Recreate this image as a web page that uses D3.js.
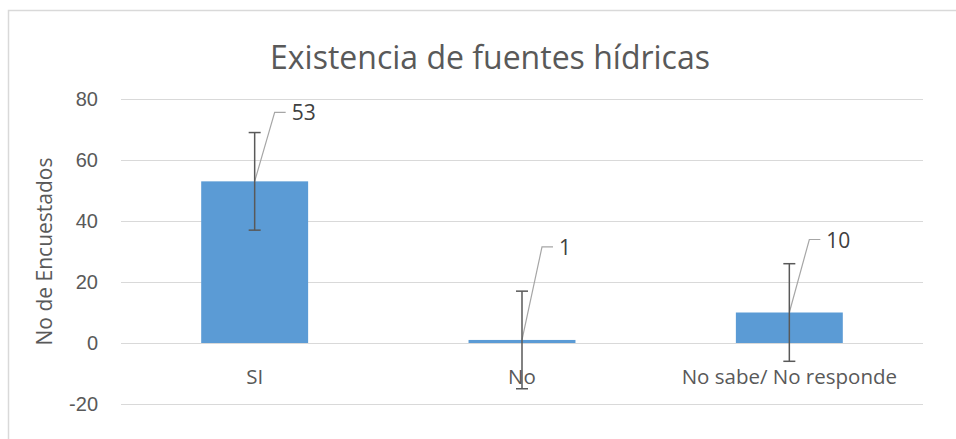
<!DOCTYPE html>
<html>
<head>
<meta charset="utf-8">
<script src="https://cdn.jsdelivr.net/npm/d3@7"></script>
<style>
  body { margin: 0; background: #fff; }
  svg { display: block; font-family: "Open Sans", "Noto Sans", sans-serif; }
</style>
</head>
<body>
<div id="chart"></div>
<script>
const categories = ['SI', 'No', 'No sabe/ No responde'];
const values = [53, 1, 10];
const errors = [16, 16, 16];
const yTicks = [-20, 0, 20, 40, 60, 80];

// manual label placement (px) like the Excel leader lines
const labelOffsets = [[20, -69], [20, -93], [20, -73]];

const width = 956, height = 439;
const margin = { top: 99, right: 33, bottom: 35, left: 121 };
const innerW = width - margin.left - margin.right;
const innerH = height - margin.top - margin.bottom;

const svg = d3.select('#chart').append('svg')
  .attr('width', width).attr('height', height);

// chart frame
svg.append('path')
  .attr('d', `M8.5,${height} V10.5 H${width}`)
  .attr('fill', 'none').attr('stroke', '#d9d9d9').attr('stroke-width', 1.5);

svg.append('text')
  .attr('x', 490).attr('y', 69)
  .attr('text-anchor', 'middle')
  .attr('font-size', 32).attr('fill', '#595959')
  .text('Existencia de fuentes hídricas');

const g = svg.append('g').attr('transform', `translate(${margin.left},${margin.top})`);

const x = d3.scaleBand().domain(categories).range([0, innerW]).paddingInner(0.6).paddingOuter(0.3);
const y = d3.scaleLinear().domain([-20, 80]).range([innerH, 0]);

g.selectAll('line.grid').data(yTicks).join('line')
  .attr('class', 'grid')
  .attr('x1', 0).attr('x2', innerW)
  .attr('y1', d => Math.round(y(d)) + 0.5).attr('y2', d => Math.round(y(d)) + 0.5)
  .attr('stroke', '#d9d9d9').attr('stroke-width', 1);

const yAxis = g.append('g').call(d3.axisLeft(y).tickValues(yTicks).tickSize(0).tickPadding(23)
  .tickFormat(d => String(d)));
yAxis.select('.domain').remove();
yAxis.selectAll('text').attr('font-size', 20).attr('fill', '#595959').attr('font-family', null);

svg.append('text')
  .attr('transform', `translate(52,${margin.top + y(30)}) rotate(-90)`)
  .attr('text-anchor', 'middle')
  .attr('font-size', 21).attr('fill', '#595959')
  .text('No de Encuestados');

g.selectAll('rect.bar').data(values).join('rect')
  .attr('class', 'bar')
  .attr('x', (d, i) => x(categories[i]))
  .attr('width', x.bandwidth())
  .attr('y', d => y(Math.max(0, d)))
  .attr('height', d => Math.abs(y(d) - y(0)))
  .attr('fill', '#5b9bd5');

g.selectAll('text.cat').data(categories).join('text')
  .attr('class', 'cat')
  .attr('x', d => x(d) + x.bandwidth() / 2)
  .attr('y', y(0) + 41)
  .attr('text-anchor', 'middle')
  .attr('font-size', 20.5).attr('fill', '#595959')
  .text(d => d);

// leader lines + data labels
values.forEach((v, i) => {
  const cx = x(categories[i]) + x.bandwidth() / 2;
  const [dx, dy] = labelOffsets[i];
  const x0 = cx, y0 = y(v);
  g.append('polyline')
    .attr('points', `${x0},${y0} ${x0 + dx},${y0 + dy} ${x0 + dx + 11},${y0 + dy}`)
    .attr('fill', 'none').attr('stroke', '#a6a6a6').attr('stroke-width', 1.2);
  g.append('text')
    .attr('x', x0 + dx + 17).attr('y', y0 + dy + 8)
    .attr('font-size', 21).attr('fill', '#404040')
    .text(v);
});

// error bars
const eb = g.selectAll('g.err').data(values).join('g').attr('class', 'err')
  .attr('stroke', '#595959').attr('stroke-width', 1.5);
eb.append('line')
  .attr('x1', (d, i) => x(categories[i]) + x.bandwidth() / 2)
  .attr('x2', (d, i) => x(categories[i]) + x.bandwidth() / 2)
  .attr('y1', (d, i) => y(d + errors[i])).attr('y2', (d, i) => y(d - errors[i]));
[1, -1].forEach(s => {
  eb.append('line')
    .attr('x1', (d, i) => x(categories[i]) + x.bandwidth() / 2 - 6)
    .attr('x2', (d, i) => x(categories[i]) + x.bandwidth() / 2 + 6)
    .attr('y1', (d, i) => y(d + s * errors[i])).attr('y2', (d, i) => y(d + s * errors[i]));
});
</script>
</body>
</html>
